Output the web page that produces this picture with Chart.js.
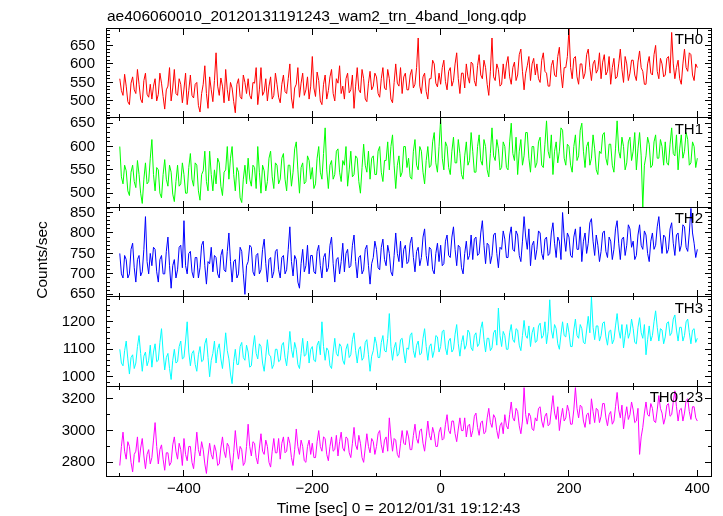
<!DOCTYPE html>
<html>
<head>
<meta charset="utf-8">
<script src="https://cdn.jsdelivr.net/npm/chart.js@4.4.1/dist/chart.umd.min.js"></script>
<style>
  html, body { margin: 0; padding: 0; background: #fff; }
  #wrap { position: relative; width: 723px; height: 516px; }
  #frameLayer { position: absolute; left: 0; top: 0; pointer-events: none; }
</style>
</head>
<body>
<div id="wrap">
  <canvas id="lcChart" width="723" height="516"></canvas>
  <canvas id="frameLayer" width="723" height="516"></canvas>
</div>
<script>
// Light curve bins: 2.5 sec bins starting at -500 sec
const plotTitle = 'ae406060010_20120131191243_wam2_trn_4band_long.qdp';
const timeTitle = 'Time [sec] 0 = 2012/01/31 19:12:43';
const timeStart = -500;
const binSize = 2.5;
const panelNames = ['TH0', 'TH1', 'TH2', 'TH3', 'TH0123'];

// Counts/sec, one value per bin (20 bins per row)
const th0Rate = [
  560, 528, 515, 572, 540, 498, 490, 548, 565, 530, 520, 585, 545, 505, 495, 555, 575, 518, 510, 545,
  505, 540, 560, 500, 518, 575, 548, 512, 478, 530, 540, 590, 500, 535, 585, 520, 515, 560, 545, 495,
  532, 575, 490, 528, 570, 515, 508, 545, 550, 488, 470, 520, 545, 595, 520, 480, 565, 530, 498, 555,
  630, 540, 515, 562, 540, 495, 585, 530, 500, 550, 535, 498, 468, 545, 560, 512, 505, 570, 550, 520,
  560, 515, 505, 550, 548, 590, 490, 530, 590, 515, 525, 560, 500, 540, 565, 505, 515, 575, 545, 510,
  495, 545, 570, 525, 520, 560, 600, 508, 480, 535, 545, 590, 510, 548, 575, 515, 530, 565, 505, 540,
  620, 535, 512, 578, 555, 500, 490, 545, 570, 505, 528, 565, 585, 520, 500, 560, 548, 595, 520, 540,
  505, 560, 575, 522, 530, 570, 480, 540, 590, 530, 522, 585, 560, 505, 498, 548, 580, 530, 540, 575,
  565, 520, 510, 560, 590, 535, 530, 585, 560, 505, 495, 550, 600, 548, 540, 590, 520, 565, 575, 530,
  530, 570, 585, 535, 545, 590, 670, 540, 520, 565, 575, 525, 505, 560, 560, 610, 600, 548, 538, 575,
  545, 590, 610, 552, 530, 580, 590, 540, 555, 600, 630, 560, 520, 575, 575, 535, 600, 565, 548, 605,
  600, 555, 540, 595, 625, 570, 560, 610, 590, 545, 515, 580, 670, 565, 555, 600, 585, 540, 545, 600,
  560, 600, 620, 565, 545, 590, 605, 555, 570, 625, 640, 580, 530, 575, 595, 620, 555, 600, 615, 570,
  600, 560, 550, 610, 630, 580, 575, 540, 540, 595, 610, 570, 565, 620, 645, 575, 535, 590, 590, 620,
  695, 590, 560, 615, 620, 565, 545, 600, 600, 560, 575, 625, 640, 590, 555, 600, 610, 575, 585, 630,
  560, 605, 625, 570, 580, 620, 545, 590, 615, 560, 565, 600, 640, 585, 550, 620, 600, 555, 575, 610,
  610, 570, 555, 605, 635, 590, 580, 545, 545, 600, 620, 575, 570, 625, 650, 580, 560, 615, 600, 565,
  570, 615, 620, 575, 685, 600, 560, 590, 610, 560, 545, 600, 640, 590, 580, 630, 625, 570, 555, 600,
  590
];
const th1Rate = [
  600, 535, 520, 560, 548, 505, 495, 545, 560, 525, 512, 570, 540, 500, 478, 530, 565, 520, 525, 575,
  615, 540, 505, 555, 550, 500, 490, 540, 572, 530, 515, 560, 545, 498, 482, 525, 560, 515, 520, 565,
  540, 500, 500, 555, 585, 530, 515, 565, 560, 505, 485, 540, 548, 590, 525, 505, 590, 540, 505, 550,
  520, 575, 565, 515, 495, 545, 550, 600, 530, 575, 600, 540, 505, 555, 545, 490, 480, 530, 560, 520,
  575, 530, 515, 560, 555, 510, 600, 545, 500, 560, 548, 505, 525, 575, 590, 535, 510, 565, 560, 520,
  530, 575, 585, 530, 505, 560, 560, 515, 545, 595, 610, 550, 500, 555, 565, 520, 525, 580, 570, 530,
  555, 510, 520, 575, 600, 545, 530, 585, 640, 550, 510, 560, 570, 530, 540, 590, 595, 545, 525, 570,
  560, 600, 515, 550, 590, 535, 540, 580, 575, 525, 500, 555, 605, 560, 545, 590, 530, 575, 580, 540,
  540, 590, 600, 545, 525, 570, 570, 610, 550, 600, 625, 560, 510, 560, 580, 535, 545, 600, 600, 555,
  575, 535, 530, 590, 615, 560, 550, 600, 590, 545, 520, 570, 600, 555, 560, 610, 630, 565, 545, 600,
  660, 575, 550, 610, 600, 555, 540, 590, 620, 565, 565, 615, 585, 540, 530, 580, 610, 560, 570, 630,
  590, 545, 545, 600, 625, 570, 560, 615, 600, 550, 535, 585, 640, 580, 570, 615, 595, 550, 555, 610,
  600, 555, 550, 610, 650, 585, 570, 620, 540, 590, 615, 560, 580, 630, 630, 575, 545, 600, 600, 555,
  565, 610, 620, 560, 555, 605, 655, 590, 575, 625, 540, 590, 610, 565, 590, 640, 635, 575, 560, 605,
  600, 560, 545, 600, 625, 570, 580, 635, 650, 590, 555, 600, 610, 560, 575, 625, 595, 550, 540, 590,
  585, 625, 630, 575, 560, 605, 605, 560, 545, 595, 655, 590, 575, 620, 600, 550, 565, 610, 620, 570,
  590, 630, 550, 595, 630, 580, 470, 560, 580, 620, 605, 555, 560, 610, 625, 575, 575, 615, 600, 560,
  610, 565, 560, 605, 640, 585, 580, 625, 550, 595, 625, 575, 590, 630, 615, 560, 565, 610, 600, 555,
  575
];
const th2Rate = [
  750, 700, 690, 745, 735, 690, 700, 760, 775, 715, 680, 735, 745, 695, 705, 760, 840, 730, 700, 750,
  720, 765, 760, 705, 680, 735, 745, 700, 700, 755, 790, 720, 665, 720, 735, 690, 710, 765, 770, 715,
  830, 720, 700, 750, 755, 705, 690, 740, 740, 690, 715, 770, 780, 720, 675, 730, 725, 765, 705, 745,
  740, 700, 690, 745, 760, 710, 705, 755, 800, 730, 680, 730, 735, 690, 700, 765, 755, 700, 650, 720,
  730, 770, 765, 705, 695, 745, 750, 700, 710, 760, 785, 725, 680, 735, 740, 690, 705, 755, 760, 710,
  690, 740, 745, 700, 710, 760, 815, 730, 695, 745, 735, 680, 665, 725, 760, 705, 720, 770, 700, 745,
  745, 705, 700, 755, 770, 720, 690, 740, 750, 705, 715, 770, 790, 725, 680, 735, 740, 700, 730, 775,
  705, 750, 760, 715, 720, 770, 795, 730, 690, 740, 745, 700, 710, 760, 770, 720, 675, 725, 740, 780,
  760, 715, 710, 765, 785, 735, 720, 770, 750, 705, 695, 745, 800, 750, 730, 780, 715, 760, 770, 725,
  730, 775, 790, 740, 705, 755, 765, 720, 740, 790, 810, 745, 720, 765, 760, 710, 700, 750, 775, 730,
  770, 720, 725, 780, 795, 745, 740, 790, 815, 760, 720, 770, 765, 715, 700, 750, 780, 735, 745, 795,
  735, 785, 790, 745, 750, 800, 830, 770, 725, 775, 770, 725, 745, 795, 800, 750, 715, 765, 760, 805,
  785, 740, 740, 795, 815, 760, 755, 805, 795, 745, 730, 780, 840, 790, 760, 810, 720, 770, 780, 735,
  760, 805, 800, 750, 735, 785, 790, 745, 750, 800, 825, 775, 740, 790, 780, 735, 850, 790, 755, 800,
  790, 745, 740, 790, 810, 760, 760, 815, 730, 780, 800, 750, 775, 825, 835, 780, 745, 795, 770, 730,
  755, 800, 805, 755, 740, 790, 780, 735, 760, 810, 830, 775, 735, 785, 790, 745, 770, 820, 810, 765,
  780, 735, 745, 795, 820, 770, 760, 805, 795, 750, 730, 780, 800, 760, 770, 815, 840, 790, 750, 795,
  790, 750, 760, 810, 825, 775, 745, 795, 800, 755, 770, 820, 815, 765, 755, 800, 860, 800, 775, 740,
  760
];
const th3Rate = [
  1100, 1050, 1040, 1095, 1130, 1065, 1010, 1070, 1080, 1030, 1050, 1110, 1150, 1085, 1020, 1075, 1090, 1040, 1060, 1115,
  1035, 1090, 1120, 1055, 1060, 1125, 1175, 1090, 1025, 1070, 1085, 1030, 990, 1060, 1100, 1050, 1055, 1110, 1130, 1065,
  1070, 1130, 1200, 1090, 1040, 1085, 1095, 1045, 1020, 1080, 1110, 1055, 1060, 1120, 1140, 1070, 1000, 1060, 1085, 1130,
  1050, 1100, 1120, 1065, 1030, 1090, 1160, 1095, 1065, 1010, 975, 1055, 1100, 1045, 1045, 1110, 1125, 1070, 1060, 1115,
  1090, 1035, 1040, 1105, 1150, 1085, 1065, 1120, 1110, 1050, 1020, 1075, 1135, 1080, 1075, 1030, 1045, 1100, 1100, 1055,
  1060, 1115, 1125, 1070, 1040, 1095, 1165, 1100, 1070, 1125, 1100, 1045, 1030, 1085, 1140, 1075, 1080, 1130, 1050, 1100,
  1110, 1060, 1055, 1115, 1130, 1080, 1200, 1110, 1060, 1105, 1095, 1040, 1030, 1090, 1140, 1085, 1075, 1120, 1110, 1060,
  1045, 1100, 1120, 1070, 1080, 1135, 1160, 1095, 1050, 1100, 1110, 1060, 1070, 1125, 1135, 1080, 1020, 1075, 1095, 1145,
  1120, 1070, 1070, 1125, 1150, 1095, 1090, 1140, 1230, 1110, 1060, 1105, 1125, 1075, 1085, 1135, 1140, 1090, 1050, 1105,
  1100, 1150, 1160, 1095, 1070, 1115, 1130, 1080, 1085, 1140, 1175, 1110, 1060, 1110, 1120, 1070, 1095, 1150, 1145, 1090,
  1110, 1165, 1170, 1105, 1080, 1130, 1140, 1090, 1100, 1155, 1190, 1120, 1075, 1125, 1150, 1100, 1115, 1170, 1160, 1105,
  1095, 1150, 1160, 1110, 1120, 1175, 1200, 1135, 1090, 1140, 1140, 1095, 1105, 1160, 1170, 1115, 1250, 1150, 1110, 1165,
  1150, 1100, 1100, 1160, 1190, 1135, 1125, 1175, 1170, 1115, 1095, 1150, 1205, 1150, 1140, 1185, 1110, 1160, 1180, 1125,
  1130, 1185, 1195, 1140, 1150, 1200, 1120, 1165, 1280, 1170, 1140, 1190, 1175, 1120, 1100, 1155, 1200, 1150, 1145, 1195,
  1160, 1110, 1110, 1170, 1210, 1150, 1140, 1190, 1175, 1125, 1120, 1170, 1220, 1160, 1290, 1180, 1135, 1185, 1185, 1130,
  1150, 1195, 1200, 1145, 1115, 1165, 1170, 1120, 1135, 1185, 1230, 1170, 1140, 1190, 1105, 1150, 1190, 1140, 1160, 1210,
  1175, 1125, 1120, 1180, 1215, 1160, 1140, 1190, 1080, 1135, 1185, 1130, 1150, 1200, 1240, 1180, 1130, 1175, 1170, 1120,
  1145, 1195, 1200, 1150, 1160, 1210, 1225, 1170, 1130, 1180, 1180, 1130, 1150, 1200, 1210, 1160, 1120, 1170, 1175, 1125,
  1140
];
const th0123Rate = [
  2780, 2900, 2990, 2870, 2820, 2930, 2900, 2800, 2740, 2850, 2870, 2960, 2800, 2890, 2950, 2840, 2760, 2850, 2880, 2790,
  2830, 2940, 3050, 2900, 2790, 2880, 2910, 2820, 2750, 2860, 2860, 2780, 2800, 2910, 2960, 2870, 2820, 2920, 2880, 2780,
  2950, 2850, 2810, 2900, 2900, 2800, 2760, 2870, 2990, 2880, 2840, 2930, 2880, 2790, 2730, 2840, 2920, 2850, 2820, 2910,
  2870, 2780, 2790, 2890, 2960, 2870, 2830, 2920, 2900, 2810, 2750, 2860, 3000, 2890, 2820, 2900, 2880, 2780, 2800, 2900,
  3040, 2900, 2840, 2930, 2920, 2830, 2790, 2890, 2980, 2870, 2850, 2940, 2900, 2800, 2770, 2870, 2950, 2860, 2860, 2950,
  2820, 2920, 2960, 2860, 2870, 2960, 2920, 2830, 2780, 2880, 3010, 2900, 2850, 2940, 2900, 2810, 2800, 2900, 2940, 2850,
  2920, 2830, 2830, 2930, 3000, 2900, 2870, 2960, 2950, 2850, 2810, 2900, 2960, 2870, 2880, 2970, 2840, 2930, 2990, 2890,
  2870, 2960, 2950, 2860, 2830, 2920, 3020, 2910, 2880, 2970, 2920, 2830, 2800, 2890, 2980, 2900, 2860, 2950, 2930, 2850,
  2900, 2980, 3000, 2910, 2860, 2940, 2960, 2870, 3080, 2960, 2870, 2950, 2940, 2850, 2830, 2920, 3000, 2920, 2910, 3000,
  2960, 2880, 2880, 2970, 3040, 2950, 2920, 3000, 3010, 2920, 2870, 2960, 3060, 2970, 2940, 3020, 2980, 2900, 2900, 2990,
  3020, 2940, 2950, 3040, 3100, 3000, 2980, 3060, 3060, 2980, 2930, 3010, 3080, 3000, 3000, 3080, 2960, 3030, 3040, 2960,
  3000, 3090, 3110, 3020, 2970, 3050, 3060, 2980, 2990, 3080, 3140, 3050, 3020, 3100, 3080, 3000, 2950, 3030, 3050, 2980,
  3100, 3030, 3010, 3100, 3180, 3080, 3060, 3140, 3120, 3030, 2980, 3060, 3270, 3100, 3040, 3110, 3090, 3010, 3000, 3080,
  3060, 3140, 3150, 3060, 3020, 3090, 3110, 3030, 3040, 3130, 3220, 3110, 3070, 3150, 3000, 3080, 3140, 3060, 3080, 3160,
  3120, 3040, 3040, 3130, 3270, 3140, 3080, 3160, 3150, 3060, 3020, 3100, 3110, 3040, 3200, 3120, 3050, 3140, 3130, 3050,
  3090, 3170, 3170, 3080, 3030, 3100, 3120, 3040, 3060, 3150, 3240, 3130, 3080, 3160, 3010, 3090, 3150, 3070, 3100, 3180,
  3130, 3050, 3060, 3140, 2850, 2960, 3020, 3110, 3180, 3100, 3090, 3170, 3140, 3060, 3050, 3130, 3220, 3140, 3110, 3040,
  3080, 3160, 3170, 3090, 3100, 3180, 3250, 3150, 3060, 3130, 3140, 3060, 3110, 3190, 3200, 3120, 3070, 3150, 3150, 3080,
  3060
];
const panelRates = [th0Rate, th1Rate, th2Rate, th3Rate, th0123Rate];

// Axis ranges and tick labels per panel
const panelRanges = [[455, 697], [470, 662], [644, 863], [965, 1291], [2714, 3278]];
const panelTicks = [
  [500, 550, 600, 650],
  [500, 550, 600, 650],
  [650, 700, 750, 800, 850],
  [1000, 1100, 1200],
  [2800, 3000, 3200]
];
const panelMinorStep = [10, 10, 10, 20, 100];
const timeTicks = [-400, -200, 0, 200, 400];
const timeMinorTicks = [-500, -300, -100, 100, 300];
const timeRange = [-521.5, 421.3];

const panelColors = ['#ff0000', '#00ff00', '#0000ff', '#00ffff', '#ff00ff'];
const fontFamily = '"Liberation Sans", Arial, Helvetica, sans-serif';
const clear = 'rgba(0,0,0,0)';

const datasets = panelRates.map((rates, k) => ({
  label: panelNames[k],
  data: rates.map((r, i) => ({ x: timeStart + i * binSize, y: r })),
  yAxisID: 'y' + k,
  borderColor: panelColors[k],
  borderWidth: 1,
  pointRadius: 0,
  tension: 0,
  fill: false
}));

// the panel box comes from grid lines at the axis ends, other grid lines stay invisible
const isTimeEdge = v => v === timeRange[0] || v === timeRange[1];
const scales = {
  x: {
    type: 'linear',
    min: timeRange[0],
    max: timeRange[1],
    grid: {
      drawTicks: false,
      color: c => (c.tick && isTimeEdge(c.tick.value)) ? '#000' : clear
    },
    border: { display: false },
    afterBuildTicks: s => {
      s.ticks = [timeRange[0]].concat(timeTicks, [timeRange[1]]).map(v => ({ value: v }));
    },
    afterFit: s => { s.height = 40; },
    ticks: {
      color: '#000',
      font: { family: fontFamily, size: 15 },
      padding: 4,
      maxRotation: 0,
      autoSkip: false,
      callback: v => isTimeEdge(v) ? '' : String(v).replace('-', '\u2212')
    }
  }
};
panelNames.forEach((name, k) => {
  const isEdge = v => v === panelRanges[k][0] || v === panelRanges[k][1];
  scales['y' + k] = {
    type: 'linear',
    position: 'left',
    stack: 'panels',
    stackWeight: 1,
    weight: panelNames.length - k, // top panel first
    min: panelRanges[k][0],
    max: panelRanges[k][1],
    grid: {
      drawTicks: false,
      color: c => (c.tick && isEdge(c.tick.value)) ? '#000' : clear
    },
    border: { display: false },
    afterBuildTicks: s => {
      s.ticks = [panelRanges[k][0]].concat(panelTicks[k], [panelRanges[k][1]]).map(v => ({ value: v }));
    },
    afterFit: s => { s.width = 106; },
    ticks: {
      color: '#000',
      font: { family: fontFamily, size: 15 },
      padding: 11,
      autoSkip: false,
      callback: v => isEdge(v) ? '' : String(v)
    }
  };
});

// panel boxes and inward ticks on a layer above the chart, placed with the chart's scales
const frameLayer = document.getElementById('frameLayer');
function drawFrames(chart) {
  const ctx = frameLayer.getContext('2d');
  const a = chart.chartArea;
  const xs = chart.scales.x;
  const px = p => Math.round(p - 0.5);
  const l = px(a.left);
  const r = px(a.right);
  ctx.clearRect(0, 0, frameLayer.width, frameLayer.height);
  ctx.fillStyle = '#000';
  panelNames.forEach((name, k) => {
    const ys = chart.scales['y' + k];
    const pTop = px(ys.top);
    const pBot = px(ys.bottom);
    ctx.fillRect(l, pTop, r - l + 1, 1);
    ctx.fillRect(l, pBot, r - l + 1, 1);
    ctx.fillRect(l, pTop, 1, pBot - pTop + 1);
    ctx.fillRect(r, pTop, 1, pBot - pTop + 1);
    const step = panelMinorStep[k];
    for (let v = Math.ceil(panelRanges[k][0] / step) * step; v <= panelRanges[k][1]; v += step) {
      const y = px(ys.getPixelForValue(v));
      const len = panelTicks[k].includes(v) ? 7 : 4;
      ctx.fillRect(l, y, len, 1);
      ctx.fillRect(r - len + 1, y, len, 1);
    }
    timeTicks.concat(timeMinorTicks).forEach(v => {
      const x = px(xs.getPixelForValue(v));
      const len = timeTicks.includes(v) ? 7 : 4;
      ctx.fillRect(x, pTop, 1, len);
      ctx.fillRect(x, pBot - len + 1, 1, len);
    });
  });
}

function drawLabels(chart) {
  const ctx = chart.ctx;
  const r = Math.round(chart.chartArea.right);
  ctx.save();
  ctx.fillStyle = '#000';
  ctx.textBaseline = 'alphabetic';
  ctx.font = '15px ' + fontFamily;
  ctx.textAlign = 'right';
  panelNames.forEach((name, k) => {
    ctx.fillText(name, r - 8, Math.round(chart.scales['y' + k].top) + 15.5);
  });
  ctx.font = '15.5px ' + fontFamily;
  ctx.textAlign = 'left';
  ctx.fillText(plotTitle, 107, 21);
  ctx.textAlign = 'center';
  ctx.fillText(timeTitle, 398.5, 513);
  ctx.translate(47, 260);
  ctx.rotate(-Math.PI / 2);
  ctx.fillText('Counts/sec', 0, 0);
  ctx.restore();
}

const panelDecor = {
  id: 'panelDecor',
  afterDraw(chart) {
    drawLabels(chart);
    drawFrames(chart);
  }
};

const lcConfig = {
  type: 'line',
  data: { datasets: datasets },
  options: {
    responsive: false,
    animation: false,
    devicePixelRatio: 1,
    parsing: false,
    layout: { padding: { top: 28, right: 12, left: 0, bottom: 0 } },
    plugins: {
      legend: { display: false },
      tooltip: { enabled: false }
    },
    scales: scales
  },
  plugins: [panelDecor]
};

const lcCtx = document.getElementById('lcChart').getContext('2d');
new Chart(lcCtx, lcConfig);
</script>
</body>
</html>
